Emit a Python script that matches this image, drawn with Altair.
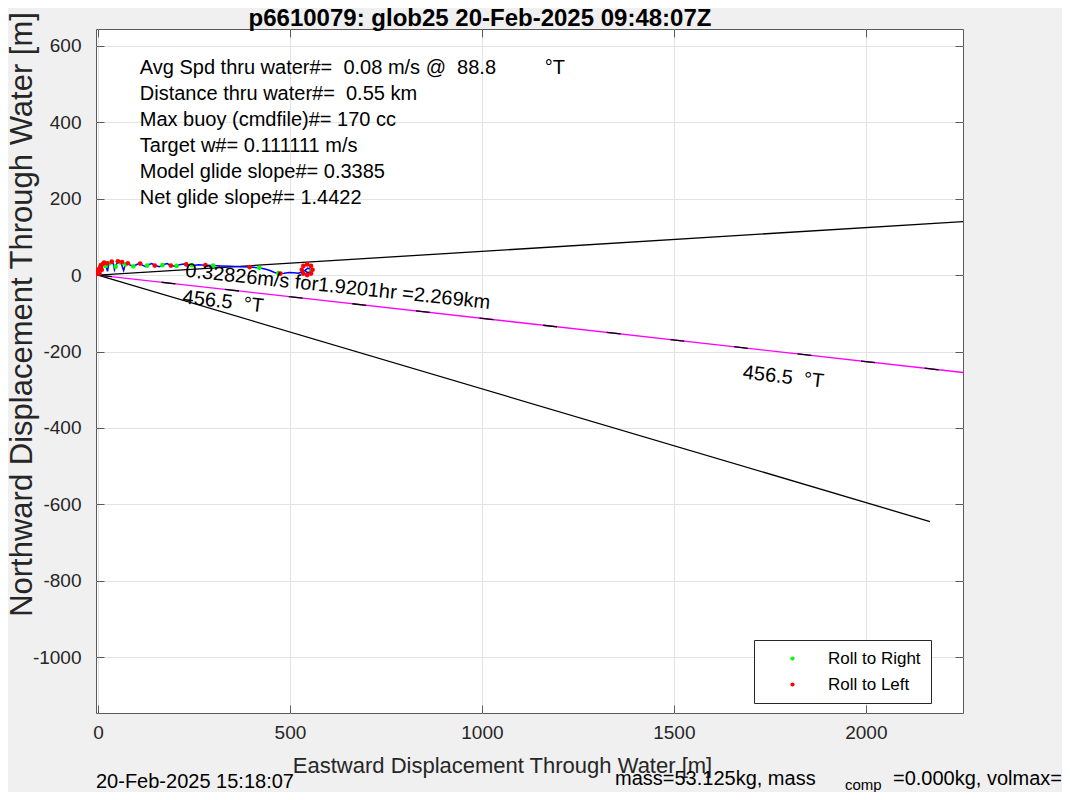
import altair as alt
import pandas as pd

FONT = "Liberation Sans"
DARK = "#262626"
FRAME = "#5a5a5a"
GRID = "#e3e3e3"

TITLE = "p6610079: glob25 20-Feb-2025 09:48:07Z"
X_TITLE = "Eastward Displacement Through Water [m]"
Y_TITLE = "Northward Displacement Through Water [m]"
X_TICKS = [0, 500, 1000, 1500, 2000]
Y_TICKS = [-1000, -800, -600, -400, -200, 0, 200, 400, 600]
X_DOMAIN = [-5, 2253]
Y_DOMAIN = [-1146, 644]

# glider track through water (m)
traj_x = [0, 2, 6, 9, 13, 18, 22, 25, 28, 34, 40, 43, 47, 53, 60, 64, 67, 71, 77, 84,
          92, 100, 108, 116, 124, 132, 140, 150, 160, 170, 180, 190, 200, 212, 224, 236,
          248, 262, 280, 300, 320, 345, 370, 395, 418, 435, 448, 460, 472, 485, 498, 510,
          522, 532, 540, 547, 552, 554, 550, 543, 540]
traj_y = [0, 12, 22, 8, 26, 33, 20, 10, 28, 35, 30, 14, 26, 36, 34, 20, 12, 27, 31, 26,
          23, 27, 31, 26, 22, 27, 30, 25, 22, 27, 30, 25, 23, 27, 29, 26,
          25, 27, 26, 25, 24, 23, 22, 21, 19, 16, 12, 7, 4, 5, 7, 6,
          5, 8, 13, 18, 16, 11, 7, 8, 12]

right_x = [5, 20, 30, 46, 58, 72, 92, 128, 168, 205, 245, 300, 420, 470, 556]
right_y = [18, 24, 31, 22, 33, 28, 23, 25, 26, 24, 26, 25, 19, 5, 12]

left_x = [-3, 0, 2, 4, -2, 6, 8, 10, 14, 16, 24, 36, 52, 63, 78, 110, 148, 190, 230,
          280, 395, 475, 531, 535, 545, 555, 559, 555, 545, 535]
left_y = [3, 8, 15, 4, 12, 20, 26, 14, 30, 33, 31, 35, 36, 34, 31, 30, 25, 25, 28,
          26, 21, 4, 14, 24, 28, 24, 14, 4, 0, 4]

head_x = [0, 2253]
head_y = [0, 140]
model_x = [0, 2167]
model_y = [0, -645]
avg_x = [0, 2253]
avg_y = [0, -255]

STATS = [
    "Avg Spd thru water#=\u00a0 0.08 m/s @\u00a0 88.8",
    "Distance thru water#=\u00a0 0.55 km",
    "Max buoy (cmdfile)#= 170 cc",
    "Target w#= 0.111111 m/s",
    "Model glide slope#= 0.3385",
    "Net glide slope#= 1.4422",
]
DEG_T = "°T"
RATE_TEXT = "0.32826m/s for1.9201hr =2.269km"
HEAD_TEXT = "456.5\u00a0\u00a0°T"
FOOT_DATE = "20-Feb-2025 15:18:07"
FOOT_MASS = "mass=53.125kg, mass"
FOOT_SUB = "comp"
FOOT_REST = "=0.000kg, volmax=5"

W, H = 867, 684

xs = alt.Scale(domain=X_DOMAIN, nice=False, zero=False)
ys = alt.Scale(domain=Y_DOMAIN, nice=False, zero=False)


def X(axis=None):
    return alt.X("x:Q", scale=xs, axis=axis)


def Y(axis=None):
    return alt.Y("y:Q", scale=ys, axis=axis)


ax_x_main = alt.Axis(values=X_TICKS, orient="bottom", grid=True, gridColor=GRID, gridWidth=1,
                     ticks=False, domain=False, labelFont=FONT, labelFontSize=19, labelColor=DARK,
                     labelPadding=10, labelFlush=False, labelExpr="'' + datum.value",
                     title=X_TITLE, titleFont=FONT, titleFontSize=22, titleFontWeight="normal",
                     titleColor=DARK, titleX=406, titleY=52, titleBaseline="middle", titleAlign="center")
ax_y_main = alt.Axis(values=Y_TICKS, orient="left", grid=True, gridColor=GRID, gridWidth=1,
                     ticks=False, domain=False, labelFont=FONT, labelFontSize=19, labelColor=DARK,
                     labelPadding=15, labelFlush=False, labelExpr="'' + datum.value",
                     title=Y_TITLE, titleFont=FONT, titleFontSize=31, titleFontWeight="normal",
                     titleColor=DARK, titleX=-74, titleY=285, titleBaseline="middle", titleAlign="center")


def tick_axis(values, orient):
    return alt.Axis(values=values, orient=orient, offset=-8, tickSize=8, tickColor=FRAME,
                    tickWidth=1, labels=False, domain=False, grid=False, title=None)


df_head = pd.DataFrame({"x": head_x, "y": head_y})
df_model = pd.DataFrame({"x": model_x, "y": model_y})
df_avg = pd.DataFrame({"x": avg_x, "y": avg_y})
df_traj = pd.DataFrame({"x": traj_x, "y": traj_y, "i": list(range(len(traj_x)))})
df_pts = pd.concat([
    pd.DataFrame({"x": right_x, "y": right_y, "roll": "Roll to Right"}),
    pd.DataFrame({"x": left_x, "y": left_y, "roll": "Roll to Left"}),
], ignore_index=True)

l_head = alt.Chart(df_head).mark_line(color="black", strokeWidth=1.3, clip=True).encode(
    x=X(ax_x_main), y=Y(ax_y_main))
l_model = alt.Chart(df_model).mark_line(color="black", strokeWidth=1.3, clip=True).encode(
    x=X(tick_axis(X_TICKS, "bottom")), y=Y(tick_axis(Y_TICKS, "left")))
l_avg = alt.Chart(df_avg).mark_line(color="#ff00ff", strokeWidth=1.3, clip=True).encode(
    x=X(tick_axis(X_TICKS, "top")), y=Y(tick_axis(Y_TICKS, "right")))
l_avg_dash = alt.Chart(df_avg).mark_line(color="black", strokeWidth=1.3, strokeDash=[14, 50],
                                         clip=True).encode(x=X(), y=Y())
l_traj = alt.Chart(df_traj).mark_line(color="#0000ff", strokeWidth=1.5, clip=True).encode(
    x=X(), y=Y(), order=alt.Order("i:Q"))
l_pts = alt.Chart(df_pts).mark_circle(size=22, opacity=1, clip=True).encode(
    x=X(), y=Y(),
    color=alt.Color("roll:N",
                    scale=alt.Scale(domain=["Roll to Right", "Roll to Left"],
                                    range=["#00ff00", "#ff0000"]),
                    legend=alt.Legend(orient="none", legendX=658, legendY=611, title=None,
                                      fillColor="white", strokeColor=DARK, padding=10,
                                      symbolType="circle", symbolSize=18, symbolOffset=20,
                                      labelOffset=27, labelFont=FONT, labelFontSize=17,
                                      labelColor="black", rowPadding=8, labelLimit=300)),
)

txt_kw = dict(font=FONT, fontSize=20, color="black", align="left", baseline="middle")
l_stats = alt.Chart(pd.DataFrame({"x": [109], "y": [541], "t": ["\n".join(STATS)]})).mark_text(
    lineBreak="\n", lineHeight=26, **txt_kw).encode(x=X(), y=Y(), text="t:N")
l_deg = alt.Chart(pd.DataFrame({"x": [1164], "y": [541], "t": [DEG_T]})).mark_text(**txt_kw).encode(
    x=X(), y=Y(), text="t:N")
l_rate = alt.Chart(pd.DataFrame({"x": [228], "y": [11], "t": [RATE_TEXT]})).mark_text(
    angle=6, **txt_kw).encode(x=X(), y=Y(), text="t:N")
l_headtxt = alt.Chart(pd.DataFrame({"x": [221, 1680], "y": [-58, -255], "t": [HEAD_TEXT, HEAD_TEXT]})).mark_text(
    angle=6.5, **txt_kw).encode(x=X(), y=Y(), text="t:N")


def free_text(text, px, py, size=20, align="left", baseline="middle", weight="normal"):
    return alt.Chart(pd.DataFrame({"t": [text]})).mark_text(
        font=FONT, fontSize=size, color="black", align=align, baseline=baseline,
        fontWeight=weight).encode(x=alt.value(px), y=alt.value(py), text="t:N")


chart = alt.layer(
    l_head, l_model, l_avg, l_avg_dash, l_traj, l_pts, l_stats, l_deg, l_rate, l_headtxt,
    free_text(TITLE, 384, -3, size=24, align="center", baseline="alphabetic", weight="bold"),
    free_text(FOOT_DATE, 0, 753), free_text(FOOT_MASS, 519, 750),
    free_text(FOOT_SUB, 749, 756, size=15), free_text(FOOT_REST, 797, 750),
).resolve_axis(x="independent", y="independent").properties(
    width=W, height=H,
    autosize=alt.AutoSizeParams(type="none"),
    padding={"left": 88, "top": 21, "right": 99, "bottom": 79},
    background="#f0f0f0",
).configure_view(fill="white", stroke=FRAME, strokeWidth=1)

chart.save("out.html", embed_options={"renderer": "svg", "actions": False})
